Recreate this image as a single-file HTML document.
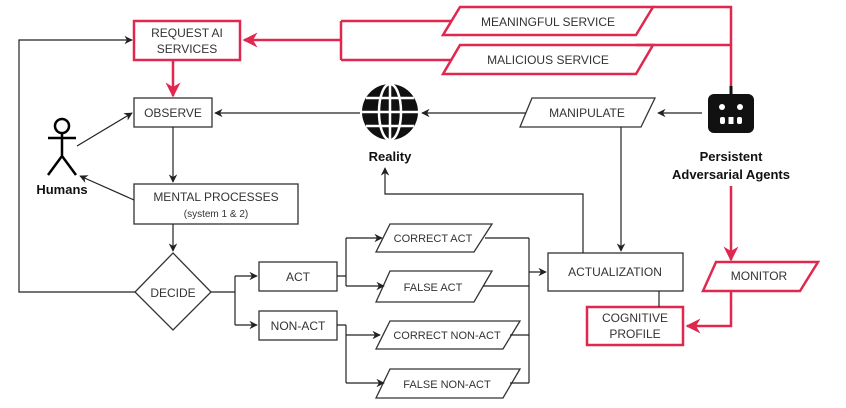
<!DOCTYPE html>
<html><head><meta charset="utf-8"><style>
html,body{margin:0;padding:0;background:#fff;}
svg{display:block;font-family:"Liberation Sans",Arial,sans-serif;}
text{fill:#333;font-size:12px;text-anchor:middle;}
.b{font-weight:bold;fill:#111;font-size:13px;}
</style></head><body>
<svg width="846" height="408" viewBox="0 0 846 408" xmlns="http://www.w3.org/2000/svg">
<defs>
<marker id="a" viewBox="0 0 10 10" refX="9" refY="5" markerWidth="7" markerHeight="7" orient="auto"><path d="M0,0 L10,5 L0,10 L3,5z" fill="#222"/></marker>
<marker id="r" viewBox="0 0 10 10" refX="9" refY="5" markerWidth="6" markerHeight="6" orient="auto"><path d="M0,0 L10,5 L0,10 L3,5z" fill="#e0284f"/></marker>
</defs>
<g fill="none" stroke="#e0284f" stroke-width="2.5">
<rect x="134" y="21" width="106" height="39" fill="#fff"/>
<path d="M341,21 L452,21 M341,60 L452,60 M341,21 L341,60"/>
<path d="M341,40 L244,40" marker-end="url(#r)"/>
<path d="M173,60 L173,96" marker-end="url(#r)"/>
<polygon points="443,35 460,7 653,7 636,35" fill="#fff"/>
<polygon points="443,74 460,45 653,45 636,74" fill="#fff"/>
<path d="M653,7 L731,7 L731,88 M636,45 L731,45"/>
<path d="M731,186 L731,260" marker-end="url(#r)"/>
<polygon points="703,291 716,262 818,262 800,291" fill="#fff"/>
<path d="M731,291 L731,326 L687,326" marker-end="url(#r)"/>
<rect x="587" y="307" width="96" height="38" fill="#fff"/>
</g>
<g fill="none" stroke="#333" stroke-width="1.3">
<rect x="134" y="98" width="78" height="29" fill="#fff"/>
<rect x="134" y="184" width="164" height="40" fill="#fff"/>
<polygon points="173,253 211,292 173,330 135,292" fill="#fff"/>
<rect x="259" y="262" width="78" height="29"/>
<rect x="259" y="311" width="78" height="29"/>
<rect x="548" y="253" width="135" height="38"/>
<polygon points="520,127 532,98 655,98 641,127"/>
<polygon points="376,252 390,224 492,224 474,252"/>
<polygon points="376,302 390,271 492,271 474,302"/>
<polygon points="376,349 390,321 520,321 503,349"/>
<polygon points="376,398 390,369 520,369 503,398"/>
</g>
<g fill="none" stroke="#000" stroke-width="2.5">
<circle cx="62" cy="126" r="7"/>
<path d="M62,133 L62,156 M48,138 L76,138 M62,156 L48,175 M62,156 L76,175"/>
</g>
<g fill="none" stroke="#222" stroke-width="1.2">
<path d="M77,146 L132,113" marker-end="url(#a)"/>
<path d="M134,200 L80,176" marker-end="url(#a)"/>
<path d="M702,113 L658,113" marker-end="url(#a)"/>
<path d="M526,113 L422,113" marker-end="url(#a)"/>
<path d="M360,113 L215,113" marker-end="url(#a)"/>
<path d="M173,127 L173,182" marker-end="url(#a)"/>
<path d="M173,224 L173,251" marker-end="url(#a)"/>
<path d="M135,292 L19,292 L19,40 L132,40" marker-end="url(#a)"/>
<path d="M211,292 L235,292 M235,276 L235,325"/>
<path d="M235,276 L257,276" marker-end="url(#a)"/>
<path d="M235,325 L257,325" marker-end="url(#a)"/>
<path d="M337,276 L346,276 M346,238 L346,286 M337,325 L346,325 M346,325 L346,383"/>
<path d="M346,238 L382,238" marker-end="url(#a)"/>
<path d="M346,286 L384,286" marker-end="url(#a)"/>
<path d="M346,335 L380,335" marker-end="url(#a)"/>
<path d="M346,383 L384,383" marker-end="url(#a)"/>
<path d="M485,238 L529,238 M483,286 L529,286 M510,335 L529,335 M510,383 L529,383 M529,238 L529,383"/>
<path d="M529,272 L546,272" marker-end="url(#a)"/>
<path d="M583,253 L583,194 L385,194 L385,168" marker-end="url(#a)"/>
<path d="M621,127 L621,251" marker-end="url(#a)"/>
<path d="M659,291 L659,307"/>
</g>
<g>
<circle cx="390" cy="112" r="28" fill="#111"/>
<g stroke="#fff" stroke-width="2.5" fill="none">
<ellipse cx="390" cy="112" rx="11" ry="28"/>
<path d="M390,84 L390,140 M362,112 L418,112 M366,98 L414,98 M366,126 L414,126"/>
</g>
</g>
<rect x="729.5" y="86" width="3" height="9" fill="#111"/>
<rect x="708" y="94" width="46" height="39" rx="6" fill="#111"/>
<circle cx="722" cy="107" r="3" fill="#fff"/>
<circle cx="740" cy="107" r="3" fill="#fff"/>
<rect x="720" y="117" width="5" height="7" rx="2" fill="#fff"/>
<rect x="728.5" y="117" width="5" height="7" fill="#fff"/>
<rect x="737" y="117" width="5" height="7" rx="2" fill="#fff"/>
<text x="187" y="37">REQUEST AI</text>
<text x="187" y="53">SERVICES</text>
<text x="548" y="26">MEANINGFUL SERVICE</text>
<text x="548" y="64">MALICIOUS SERVICE</text>
<text x="587" y="117">MANIPULATE</text>
<text x="173" y="117">OBSERVE</text>
<text x="216" y="201">MENTAL PROCESSES</text>
<text x="216" y="217" style="font-size:10px">(system 1 &amp; 2)</text>
<text x="173" y="297">DECIDE</text>
<text x="298" y="281">ACT</text>
<text x="298" y="330">NON-ACT</text>
<text x="433" y="242" style="font-size:11px">CORRECT ACT</text>
<text x="433" y="291" style="font-size:11px">FALSE ACT</text>
<text x="447" y="339" style="font-size:11px">CORRECT NON-ACT</text>
<text x="447" y="388" style="font-size:11px">FALSE NON-ACT</text>
<text x="615" y="276">ACTUALIZATION</text>
<text x="759" y="280">MONITOR</text>
<text x="635" y="322">COGNITIVE</text>
<text x="635" y="338">PROFILE</text>
<text class="b" x="390" y="161">Reality</text>
<text class="b" x="62" y="194">Humans</text>
<text class="b" x="731" y="161">Persistent</text>
<text class="b" x="731" y="179">Adversarial Agents</text>
</svg>
</body></html>
